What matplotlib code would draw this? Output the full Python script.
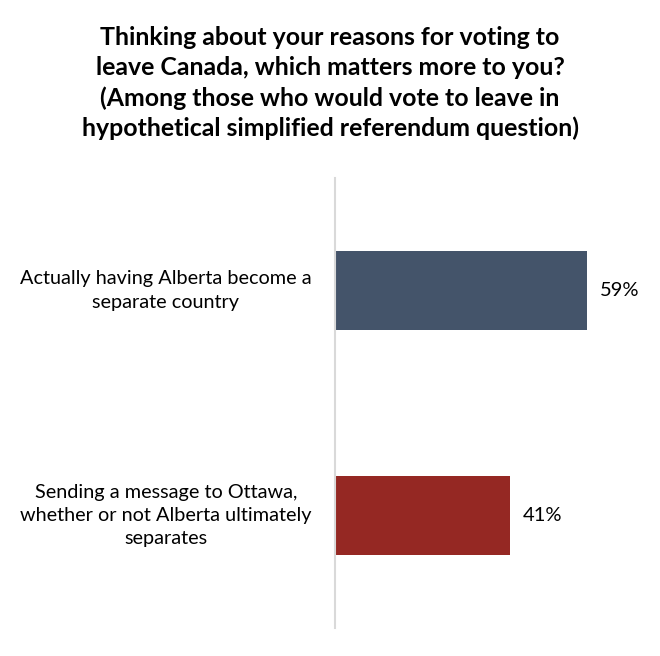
import matplotlib.pyplot as plt
from matplotlib.transforms import blended_transform_factory

# Datos
categories = ["Actually having Alberta become a\nseparate country",
              "Sending a message to Ottawa,\nwhether or not Alberta ultimately\nseparates"]
values = [0.59, 0.41]
value_labels = ["59%", "41%"]
colors = ["#44546A", "#952823"]
title = ("Thinking about your reasons for voting to\n"
         "leave Canada, which matters more to you?\n"
         "(Among those who would vote to leave in\n"
         "hypothetical simplified referendum question)")

plt.rcParams['font.family'] = ['Lato', 'DejaVu Sans']

fig = plt.figure(figsize=(6.6, 6.56), dpi=100)
ax = fig.add_axes([335 / 660, 28 / 656, 0.485, 450 / 656])

pos = [0.5, 1.5]
ax.barh(pos, values, height=0.355, color=colors)
ax.set_xlim(0, 0.75)
ax.set_ylim(2, 0)

for p, v, lab in zip(pos, values, value_labels):
    ax.text(v + 0.03, p, lab, va='center', ha='left', fontsize=14.5, color='#000000')

# Etiquetas de categoria centradas a la izquierda
tr = blended_transform_factory(fig.transFigure, ax.transData)
for p, cat in zip(pos, categories):
    ax.text(166 / 660, p, cat, transform=tr, ha='center', va='center',
            fontsize=14.3, linespacing=1.45, color='#000000')

for s in ['top', 'right', 'bottom']:
    ax.spines[s].set_visible(False)
ax.spines['left'].set_color('#D9D9D9')
ax.spines['left'].set_linewidth(1.5)
ax.set_xticks([])
ax.set_yticks([])

fig.text(0.5, 1 - 83 / 656, title, ha='center', va='center',
         fontsize=17.9, fontweight='bold', linespacing=1.37)

fig.savefig('out.png', dpi=100, facecolor='white')
